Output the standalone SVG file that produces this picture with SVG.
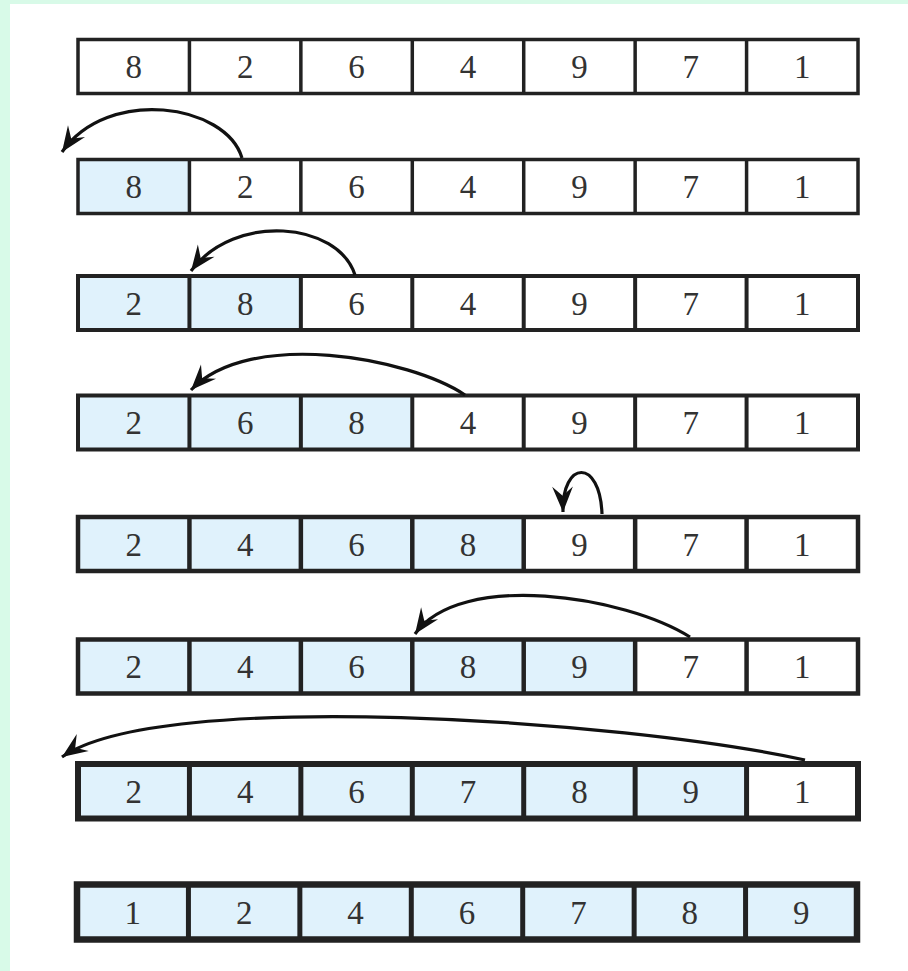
<svg xmlns="http://www.w3.org/2000/svg" width="908" height="971" viewBox="0 0 908 971">
<style>
.bg{fill:#d8fae8}
.w{fill:#ffffff}
.b{fill:#e0f2fc}
.o{fill:none;stroke:#222222}
.d{stroke:#222222}
.t{font-family:'Liberation Serif','DejaVu Serif','Times New Roman',serif;font-size:33px;fill:#333333;text-anchor:middle}
.arr{fill:none;stroke:#111111;stroke-width:3.2}
</style>
<defs>
<marker id="ah" markerUnits="userSpaceOnUse" markerWidth="30" markerHeight="30" viewBox="-24 -11 26 22" refX="0" refY="0" orient="auto">
<path d="M0,0 L-22,-9 L-14,0 L-22,9 Z" fill="#111111"/>
</marker>
</defs>
<rect class="bg" x="0" y="0" width="908" height="971"/>
<rect class="w" x="10" y="4" width="898" height="967"/>

<g id="row1">
<rect class="w" x="78" y="39.5" width="780" height="54"/>
<g class="d" stroke-width="3.5"><line x1="189.43" y1="39.5" x2="189.43" y2="93.5"/><line x1="300.86" y1="39.5" x2="300.86" y2="93.5"/><line x1="412.29" y1="39.5" x2="412.29" y2="93.5"/><line x1="523.71" y1="39.5" x2="523.71" y2="93.5"/><line x1="635.14" y1="39.5" x2="635.14" y2="93.5"/><line x1="746.57" y1="39.5" x2="746.57" y2="93.5"/></g>
<rect class="o" stroke-width="3.5" x="78" y="39.5" width="780" height="54"/>
<g class="t" font-family="Liberation Serif, DejaVu Serif, serif"><text x="133.71" y="78">8</text><text x="245.14" y="78">2</text><text x="356.57" y="78">6</text><text x="468" y="78">4</text><text x="579.43" y="78">9</text><text x="690.86" y="78">7</text><text x="802.29" y="78">1</text></g>
</g>

<g id="row2">
<rect class="w" x="78" y="159.5" width="780" height="54"/>
<rect class="b" x="78" y="159.5" width="111.43" height="54"/>
<g class="d" stroke-width="3.5"><line x1="189.43" y1="159.5" x2="189.43" y2="213.5"/><line x1="300.86" y1="159.5" x2="300.86" y2="213.5"/><line x1="412.29" y1="159.5" x2="412.29" y2="213.5"/><line x1="523.71" y1="159.5" x2="523.71" y2="213.5"/><line x1="635.14" y1="159.5" x2="635.14" y2="213.5"/><line x1="746.57" y1="159.5" x2="746.57" y2="213.5"/></g>
<rect class="o" stroke-width="3.5" x="78" y="159.5" width="780" height="54"/>
<g class="t"><text x="133.71" y="198">8</text><text x="245.14" y="198">2</text><text x="356.57" y="198">6</text><text x="468" y="198">4</text><text x="579.43" y="198">9</text><text x="690.86" y="198">7</text><text x="802.29" y="198">1</text></g>
</g>

<g id="row3">
<rect class="w" x="78" y="276" width="780" height="54"/>
<rect class="b" x="78" y="276" width="222.86" height="54"/>
<g class="d" stroke-width="4"><line x1="189.43" y1="276" x2="189.43" y2="330"/><line x1="300.86" y1="276" x2="300.86" y2="330"/><line x1="412.29" y1="276" x2="412.29" y2="330"/><line x1="523.71" y1="276" x2="523.71" y2="330"/><line x1="635.14" y1="276" x2="635.14" y2="330"/><line x1="746.57" y1="276" x2="746.57" y2="330"/></g>
<rect class="o" stroke-width="4" x="78" y="276" width="780" height="54"/>
<g class="t"><text x="133.71" y="314.5">2</text><text x="245.14" y="314.5">8</text><text x="356.57" y="314.5">6</text><text x="468" y="314.5">4</text><text x="579.43" y="314.5">9</text><text x="690.86" y="314.5">7</text><text x="802.29" y="314.5">1</text></g>
</g>

<g id="row4">
<rect class="w" x="78" y="395.5" width="780" height="54"/>
<rect class="b" x="78" y="395.5" width="334.29" height="54"/>
<g class="d" stroke-width="4"><line x1="189.43" y1="395.5" x2="189.43" y2="449.5"/><line x1="300.86" y1="395.5" x2="300.86" y2="449.5"/><line x1="412.29" y1="395.5" x2="412.29" y2="449.5"/><line x1="523.71" y1="395.5" x2="523.71" y2="449.5"/><line x1="635.14" y1="395.5" x2="635.14" y2="449.5"/><line x1="746.57" y1="395.5" x2="746.57" y2="449.5"/></g>
<rect class="o" stroke-width="4" x="78" y="395.5" width="780" height="54"/>
<g class="t"><text x="133.71" y="434">2</text><text x="245.14" y="434">6</text><text x="356.57" y="434">8</text><text x="468" y="434">4</text><text x="579.43" y="434">9</text><text x="690.86" y="434">7</text><text x="802.29" y="434">1</text></g>
</g>

<g id="row5">
<rect class="w" x="78" y="517" width="780" height="54"/>
<rect class="b" x="78" y="517" width="445.71" height="54"/>
<g class="d" stroke-width="4.5"><line x1="189.43" y1="517" x2="189.43" y2="571"/><line x1="300.86" y1="517" x2="300.86" y2="571"/><line x1="412.29" y1="517" x2="412.29" y2="571"/><line x1="523.71" y1="517" x2="523.71" y2="571"/><line x1="635.14" y1="517" x2="635.14" y2="571"/><line x1="746.57" y1="517" x2="746.57" y2="571"/></g>
<rect class="o" stroke-width="4.5" x="78" y="517" width="780" height="54"/>
<g class="t"><text x="133.71" y="555.5">2</text><text x="245.14" y="555.5">4</text><text x="356.57" y="555.5">6</text><text x="468" y="555.5">8</text><text x="579.43" y="555.5">9</text><text x="690.86" y="555.5">7</text><text x="802.29" y="555.5">1</text></g>
</g>

<g id="row6">
<rect class="w" x="78" y="639.5" width="780" height="54"/>
<rect class="b" x="78" y="639.5" width="557.14" height="54"/>
<g class="d" stroke-width="4.5"><line x1="189.43" y1="639.5" x2="189.43" y2="693.5"/><line x1="300.86" y1="639.5" x2="300.86" y2="693.5"/><line x1="412.29" y1="639.5" x2="412.29" y2="693.5"/><line x1="523.71" y1="639.5" x2="523.71" y2="693.5"/><line x1="635.14" y1="639.5" x2="635.14" y2="693.5"/><line x1="746.57" y1="639.5" x2="746.57" y2="693.5"/></g>
<rect class="o" stroke-width="4.5" x="78" y="639.5" width="780" height="54"/>
<g class="t"><text x="133.71" y="678">2</text><text x="245.14" y="678">4</text><text x="356.57" y="678">6</text><text x="468" y="678">8</text><text x="579.43" y="678">9</text><text x="690.86" y="678">7</text><text x="802.29" y="678">1</text></g>
</g>

<g id="row7">
<rect class="w" x="78" y="764" width="780" height="54.5"/>
<rect class="b" x="78" y="764" width="668.57" height="54.5"/>
<g class="d" stroke-width="5"><line x1="189.43" y1="764" x2="189.43" y2="818.5"/><line x1="300.86" y1="764" x2="300.86" y2="818.5"/><line x1="412.29" y1="764" x2="412.29" y2="818.5"/><line x1="523.71" y1="764" x2="523.71" y2="818.5"/><line x1="635.14" y1="764" x2="635.14" y2="818.5"/><line x1="746.57" y1="764" x2="746.57" y2="818.5"/></g>
<rect class="o" stroke-width="6" x="78" y="764" width="780" height="54.5"/>
<g class="t"><text x="133.71" y="803">2</text><text x="245.14" y="803">4</text><text x="356.57" y="803">6</text><text x="468" y="803">7</text><text x="579.43" y="803">8</text><text x="690.86" y="803">9</text><text x="802.29" y="803">1</text></g>
</g>

<g id="row8">
<rect class="b" x="77" y="884.5" width="780" height="55"/>
<g class="d" stroke-width="5"><line x1="188.43" y1="884.5" x2="188.43" y2="939.5"/><line x1="299.86" y1="884.5" x2="299.86" y2="939.5"/><line x1="411.29" y1="884.5" x2="411.29" y2="939.5"/><line x1="522.71" y1="884.5" x2="522.71" y2="939.5"/><line x1="634.14" y1="884.5" x2="634.14" y2="939.5"/><line x1="745.57" y1="884.5" x2="745.57" y2="939.5"/></g>
<rect class="o" stroke-width="6.5" x="77" y="884.5" width="780" height="55"/>
<g class="t"><text x="132.71" y="923.5">1</text><text x="244.14" y="923.5">2</text><text x="355.57" y="923.5">4</text><text x="467" y="923.5">6</text><text x="578.43" y="923.5">7</text><text x="689.86" y="923.5">8</text><text x="801.29" y="923.5">9</text></g>
</g>

<g id="connectors">
<path class="arr" marker-end="url(#ah)" d="M242,158 C226,104 108,86 62,152"/>
<path class="arr" marker-end="url(#ah)" d="M355,275 C338,222 235,212 191,271"/>
<path class="arr" marker-end="url(#ah)" d="M465,395 C410,358 250,328 191,390"/>
<path class="arr" marker-end="url(#ah)" d="M602,514 C600,458 562,460 563,512"/>
<path class="arr" marker-end="url(#ah)" d="M690,637 C625,596 460,570 415,634"/>
<path class="arr" marker-end="url(#ah)" d="M805,760 C620,720 160,688 62,757"/>
</g>
</svg>
